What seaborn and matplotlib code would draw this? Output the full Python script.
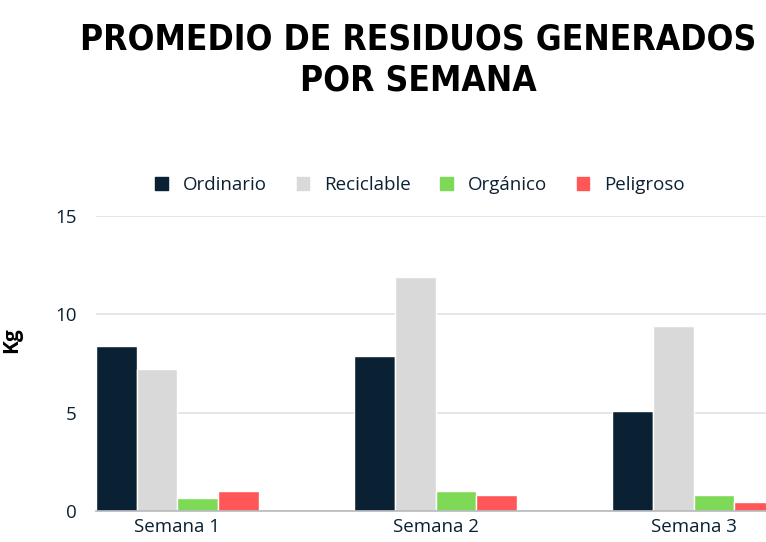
import pandas as pd
import matplotlib.pyplot as plt
import seaborn as sns

semanas = ['Semana 1', 'Semana 2', 'Semana 3']
tipos = ['Ordinario', 'Reciclable', 'Orgánico', 'Peligroso']
ordinario = [8.4, 7.9, 5.1]
reciclable = [7.2, 11.9, 9.4]
organico = [0.65, 1.0, 0.8]
peligroso = [1.0, 0.8, 0.45]
colores = ['#0a2133', '#d9d9d9', '#7ed957', '#ff5757']

df = pd.DataFrame({'semana': semanas * 4,
                   'tipo': [t for t in tipos for _ in semanas],
                   'kg': ordinario + reciclable + organico + peligroso})

sns.set_style('white')
plt.rcParams['font.family'] = ['Open Sans', 'DejaVu Sans']
text_color = '#0b2133'

fig = plt.figure(figsize=(7.66, 5.42), dpi=100)
ax = fig.add_axes([96 / 766, 1 - 511 / 542, 1 - 96 / 766, (511 - 216) / 542])

sns.barplot(data=df, x='semana', y='kg', hue='tipo', hue_order=tipos,
            palette=colores, saturation=1, width=0.63, edgecolor='white',
            linewidth=1, ax=ax, legend=False)

ax.set_xlim(-0.315, 2.28)
ax.set_ylim(0, 15)
ax.set_yticks([0, 5, 10, 15])
ax.yaxis.grid(True, color='#dfe1e3', linewidth=1.2)
ax.set_axisbelow(True)
for s in ['top', 'right', 'left']:
    ax.spines[s].set_visible(False)
ax.spines['bottom'].set_color('#b5b9bd')
ax.spines['bottom'].set_linewidth(1.2)
ax.tick_params(axis='both', length=0, labelsize=13.5, labelcolor=text_color)
ax.tick_params(axis='y', pad=14)
ax.tick_params(axis='x', pad=5)
ax.set_xlabel('')
ax.set_ylabel('Kg', fontsize=15, fontweight='bold', color='black')
ax.yaxis.set_label_coords(-0.11, 0.58)

handles = [plt.Rectangle((0, 0), 1, 1, color=c) for c in colores]
fig.legend(handles, tipos, loc='center', bbox_to_anchor=(420 / 766, 1 - 185 / 542),
           ncol=4, frameon=False, fontsize=13.5, handlelength=0.65, handleheight=0.65,
           columnspacing=1.6, handletextpad=0.8, labelcolor=text_color)

fig.text(418 / 766, 1 - 60 / 542, 'PROMEDIO DE RESIDUOS GENERADOS\nPOR SEMANA',
         ha='center', va='center', fontsize=25.3, fontweight='heavy', color='black',
         family=['DejaVu Sans'], fontstretch='condensed', linespacing=1.25)

fig.savefig('out.png', dpi=100)
